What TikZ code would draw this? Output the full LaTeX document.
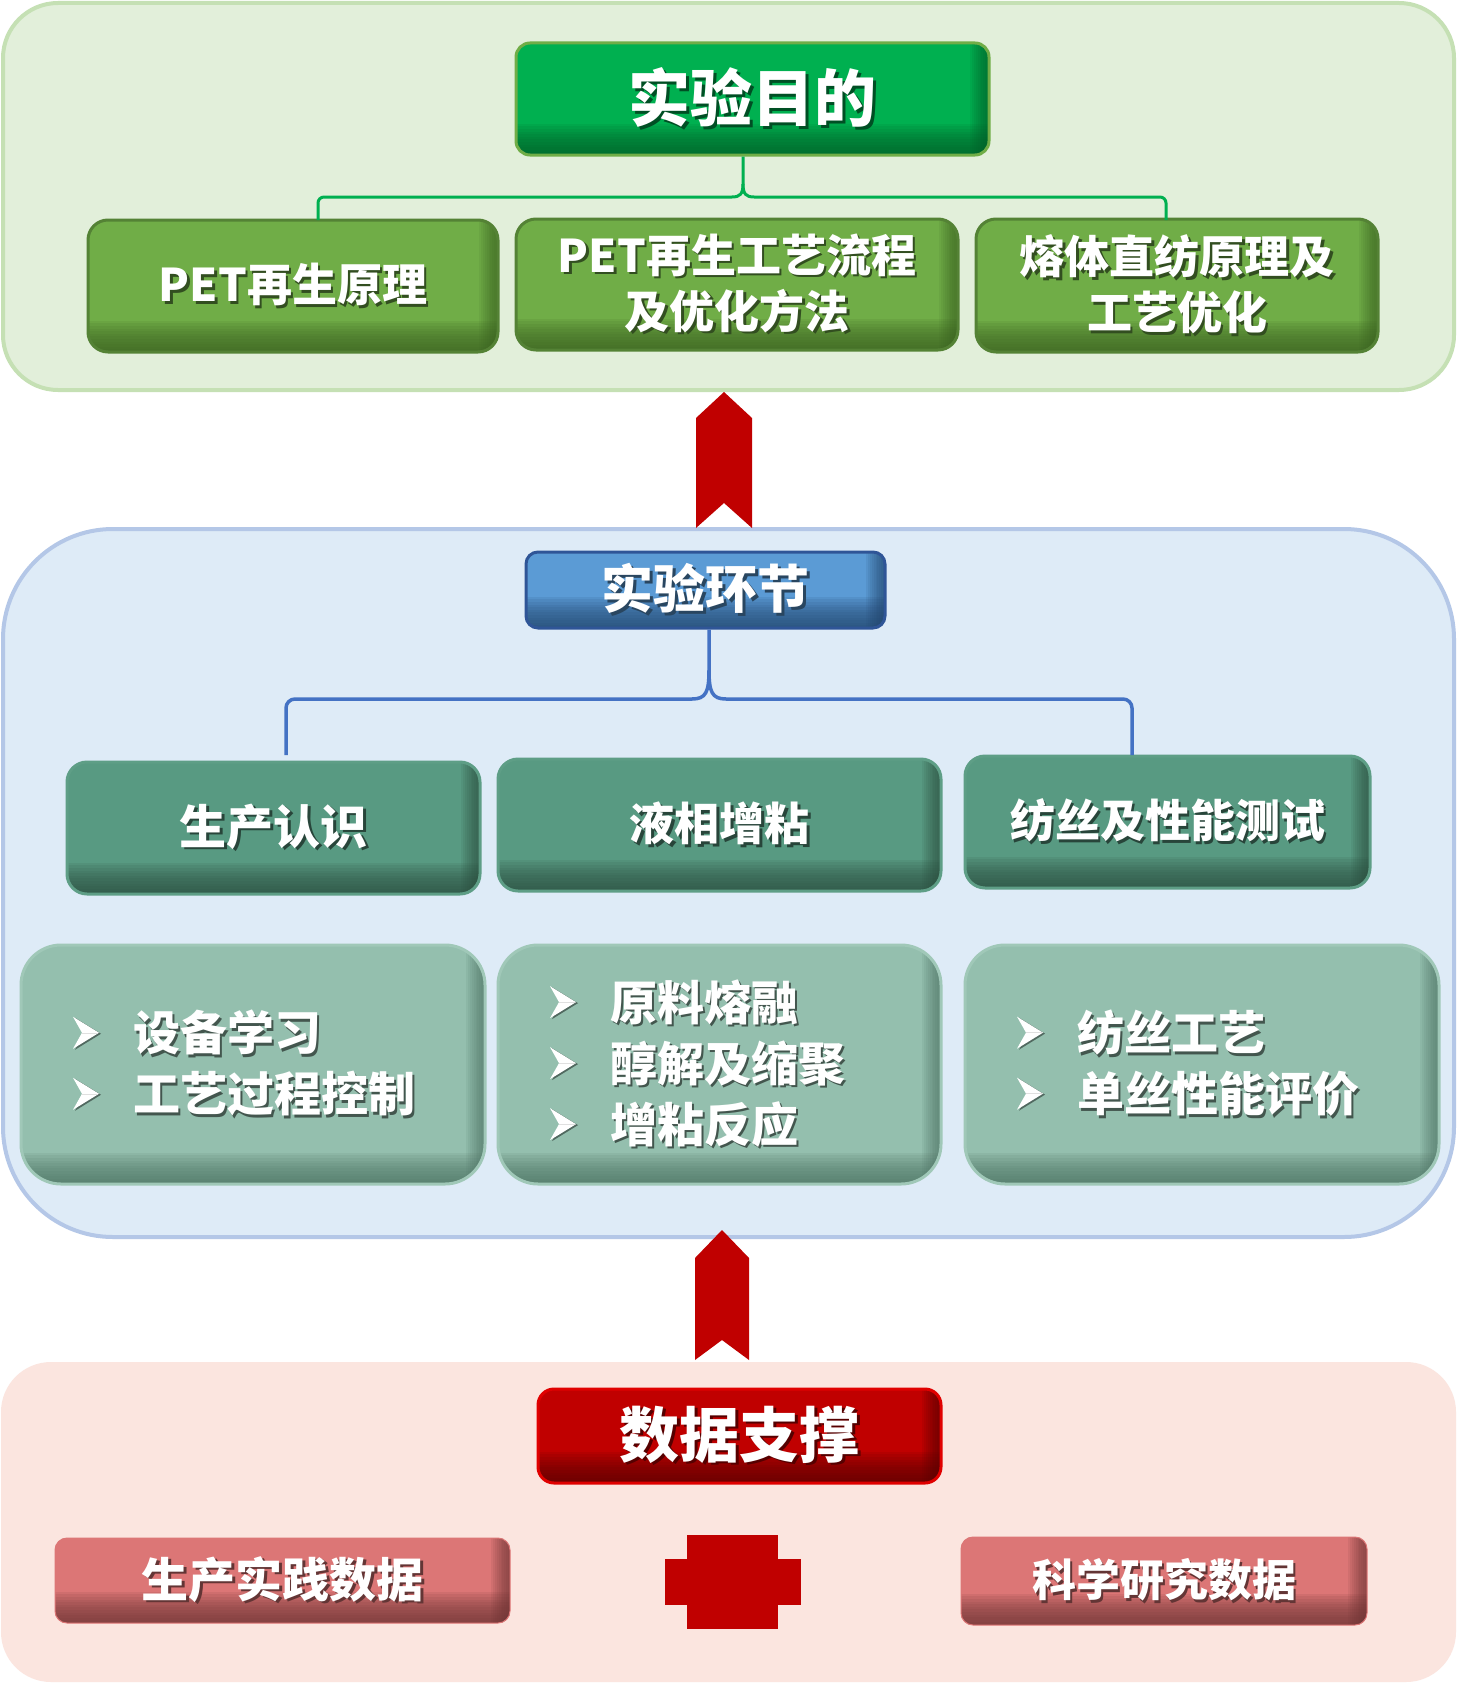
\documentclass[tikz,border=0pt]{standalone}
\usepackage{fontspec}
\newfontfamily\cjk{Noto Sans CJK SC}
\definecolor{panelGf}{HTML}{E2EFDA}
\definecolor{panelGd}{HTML}{C5E0B4}
\definecolor{panelBf}{HTML}{DEEBF7}
\definecolor{panelBd}{HTML}{B4C7E7}
\definecolor{panelRf}{HTML}{FBE5DF}
\definecolor{titG}{HTML}{00B050}
\definecolor{titGd}{HTML}{00602A}
\definecolor{titGb}{HTML}{70AD47}
\definecolor{lvG}{HTML}{70AD47}
\definecolor{lvGd}{HTML}{3C6422}
\definecolor{lvGb}{HTML}{548235}
\definecolor{bluF}{HTML}{5B9BD5}
\definecolor{bluD}{HTML}{23466E}
\definecolor{bluB}{HTML}{2F5597}
\definecolor{tealF}{HTML}{589A82}
\definecolor{tealD}{HTML}{2C5040}
\definecolor{tealB}{HTML}{5E9E86}
\definecolor{ltF}{HTML}{94BFAE}
\definecolor{ltD}{HTML}{4E7465}
\definecolor{ltB}{HTML}{A0C8B8}
\definecolor{redF}{HTML}{C00000}
\definecolor{redD}{HTML}{5A0000}
\definecolor{redB}{HTML}{E00000}
\definecolor{pinkF}{HTML}{DC7676}
\definecolor{pinkD}{HTML}{6E3535}
\definecolor{arrowred}{HTML}{C00000}
\definecolor{gconn}{HTML}{00B050}
\definecolor{bconn}{HTML}{4472C4}
\colorlet{shc}{black!50}
\newcommand{\shd}[1]{\makebox[0pt][l]{\hspace{2.5pt}\raisebox{-2.5pt}{\textcolor{shc}{#1}}}#1}
\newcommand{\blt}{\makebox[60pt][l]{\tikz[x=1pt,y=1pt,baseline=0pt,sharp corners,line width=0.5pt]{%
  \fill[black!45!ltF] (2,1) -- (28,17) -- (2,33) -- (11,17) -- cycle;
  \fill[white] (0,2) -- (26,18) -- (0,34) -- (9,18) -- cycle;
  \draw[black!12] (9,18) -- (25,18);}}}
\tikzset{
  bevel/.style n args={4}{draw=#3, line width=3pt, fill=#1, rounded corners=#4,
    text=white, inner sep=0pt, align=center,
    execute at begin node={\colorlet{shc}{black!55!#1}},
    path picture={
      \foreach \i in {1,...,12}{
        \fill[#2, opacity=0.11, sharp corners]
          (path picture bounding box.south west) rectangle ([yshift=\i*2.6pt]path picture bounding box.south east);}
      \foreach \i in {1,...,10}{
        \fill[#2, opacity=0.10, sharp corners]
          ([xshift=-\i*1.9pt]path picture bounding box.south east) rectangle (path picture bounding box.north east);}
    }},
  titlebox/.style={bevel={titG}{titGd}{titGb}{14pt}, font=\cjk\bfseries\fontsize{62}{70}\selectfont},
  greenbox/.style={bevel={lvG}{lvGd}{lvGb}{20pt}, font=\cjk\bfseries\fontsize{45}{56}\selectfont},
  bluebox/.style={bevel={bluF}{bluD}{bluB}{12pt}, font=\cjk\bfseries\fontsize{52}{60}\selectfont},
  tealbox/.style={bevel={tealF}{tealD}{tealB}{20pt}, font=\cjk\bfseries\fontsize{45}{56}\selectfont},
  listbox/.style={bevel={ltF}{ltD}{ltB}{40pt}, align=left, inner xsep=52pt,
    font=\cjk\bfseries\fontsize{47}{61}\selectfont},
  redbox/.style={bevel={redF}{redD}{redB}{16pt}, font=\cjk\bfseries\fontsize{60}{68}\selectfont},
  pinkbox/.style={bevel={pinkF}{pinkD}{pinkF}{12pt}, line width=1pt},
  gline/.style={draw=gconn, line width=3pt},
  bline/.style={draw=bconn, line width=3.5pt},
  panel/.style={line width=4pt},
}
\begin{document}
\begin{tikzpicture}[x=1pt, y=-1pt]
\useasboundingbox (0,0) rectangle (1457,1683);
\fill[white] (0,0) rectangle (1457,1683);

% panels
\draw[panel, fill=panelGf, draw=panelGd, rounded corners=55pt] (3,3) rectangle (1454,390);
\draw[panel, fill=panelBf, draw=panelBd, rounded corners=110pt] (3,529) rectangle (1454,1237);
\fill[panelRf, rounded corners=50pt] (1,1362) rectangle (1456,1682);

% red arrows
\fill[arrowred] (724,392) -- (752,418) -- (752,528) -- (724,503) -- (696,528) -- (696,418) -- cycle;
\fill[arrowred] (722,1230) -- (749,1258) -- (749,1360) -- (722,1340) -- (695,1360) -- (695,1258) -- cycle;

% top level
\node[titlebox, minimum width=473pt, minimum height=112pt] (goal) at (752.5,99) {\shd{实验目的}};
\node[greenbox, minimum width=410pt, minimum height=132pt] (p1) at (293,286) {\shd{PET再生原理}};
\node[greenbox, minimum width=442pt, minimum height=131pt] (p2) at (737,284.5) {\shd{PET再生工艺流程}\\\shd{及优化方法}};
\node[greenbox, minimum width=402pt, minimum height=133pt] (p3) at (1177,285.5) {\shd{熔体直纺原理及}\\\shd{工艺优化}};

% green connectors
\coordinate (gtop) at ([xshift=-9.5pt]goal.south);
\coordinate (gj) at (743,184);
\coordinate (gjl) at (732,197);
\coordinate (gjr) at (754,197);
\coordinate (gL) at (318,220);
\coordinate (gR) at (1166,220);
\draw[gline] (gtop) -- (gj) .. controls (743,194) and (740,197) .. (gjl);
\draw[gline] (gj) .. controls (743,194) and (746,197) .. (gjr);
\draw[gline, rounded corners=6pt] (gjl) -- (318,197) -- (gL);
\draw[gline, rounded corners=6pt] (gjr) -- (1166,197) -- (gR);

% middle level
\node[bluebox, minimum width=359pt, minimum height=76pt] (stage) at (705.5,590) {\shd{实验环节}};
\node[tealbox, minimum width=413pt, minimum height=132pt, font=\cjk\bfseries\fontsize{47}{56}\selectfont] (s1) at (273.5,828) {\shd{生产认识}};
\node[tealbox, minimum width=443pt, minimum height=132pt] (s2) at (719.5,825) {\shd{液相增粘}};
\node[tealbox, minimum width=405pt, minimum height=132pt] (s3) at (1167.5,822) {\shd{纺丝及性能测试}};

\coordinate (btop) at ([xshift=3.5pt]stage.south);
\coordinate (bj) at (709,670);
\coordinate (bjl) at (692,699);
\coordinate (bjr) at (726,699);
\coordinate (bL) at (286,755);
\coordinate (bR) at (1132,755);
\draw[bline] (btop) -- (bj) .. controls (709,692) and (706,699) .. (bjl);
\draw[bline] (bj) .. controls (709,692) and (712,699) .. (bjr);
\draw[bline, rounded corners=9pt] (bjl) -- (286,699) -- (bL);
\draw[bline, rounded corners=9pt] (bjr) -- (1132,699) -- (bR);

\node[listbox, minimum width=464pt, text width=360pt, minimum height=239pt] (d1) at (253,1064.5)
  {\blt\shd{设备学习}\\\blt\shd{工艺过程控制}};
\node[listbox, minimum width=443pt, text width=339pt, minimum height=239pt] (d2) at (719.5,1064.5)
  {\blt\shd{原料熔融}\\\blt\shd{醇解及缩聚}\\\blt\shd{增粘反应}};
\node[listbox, minimum width=474pt, text width=370pt, minimum height=239pt] (d3) at (1202,1064.5)
  {\blt\shd{纺丝工艺}\\\blt\shd{单丝性能评价}};

% bottom level
\node[redbox, minimum width=403pt, minimum height=94pt] (data) at (739.5,1436) {\shd{数据支撑}};
\node[pinkbox, minimum width=455pt, minimum height=85pt, font=\cjk\bfseries\fontsize{47}{56}\selectfont] (k1) at (282.5,1580.5) {\shd{生产实践数据}};
\node[pinkbox, minimum width=406pt, minimum height=88pt, font=\cjk\bfseries\fontsize{44}{56}\selectfont] (k2) at (1164,1581) {\shd{科学研究数据}};

% plus sign
\fill[arrowred] (687,1535) rectangle (778,1629);
\fill[arrowred] (665,1559) rectangle (801,1605);
\end{tikzpicture}
\end{document}
